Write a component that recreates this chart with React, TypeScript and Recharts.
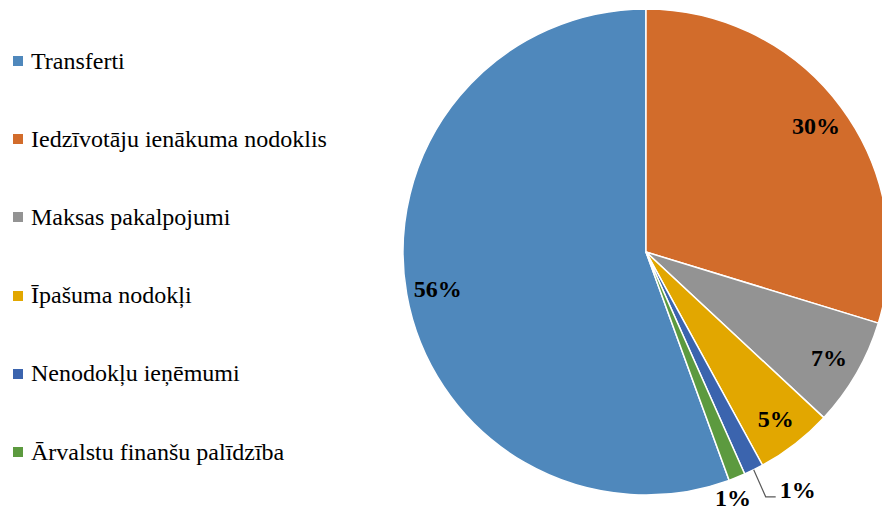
import { PieChart, Pie, Cell } from "recharts";

const NAMES = [
  "Transferti",
  "Iedzīvotāju ienākuma nodoklis",
  "Maksas pakalpojumi",
  "Īpašuma nodokļi",
  "Nenodokļu ieņēmumi",
  "Ārvalstu finanšu palīdzība",
];
const SHARES = [55.5, 29.7, 7.2, 5.1, 1.3, 1.1];
const COLORS = ["#4F88BC", "#D26C2B", "#939393", "#E2A700", "#3B64AE", "#5C9A3F"];

const FONT = "Liberation Serif, Times New Roman, serif";
const RAD = Math.PI / 180;

const data = NAMES.map((name, i) => ({ name, value: SHARES[i] }));
const total = SHARES.reduce((a, b) => a + b, 0);
// first slice (Transferti) ends at 12 o'clock, the rest run clockwise from there
const START = 90 + (360 * SHARES[0]) / total;

const labelStyle = { fontFamily: FONT, fontWeight: 700, fontSize: 24 };

function renderLabel(props: any) {
  const { cx, cy, midAngle, outerRadius, percent, index } = props;
  const text = `${Math.round(percent * 100)}%`;
  const ex = cx + outerRadius * Math.cos(-midAngle * RAD);
  const ey = cy + outerRadius * Math.sin(-midAngle * RAD);
  if (index === 4) {
    return (
      <g>
        <polyline
          points={`${ex},${ey} ${ex + 12},${ey + 27} ${ex + 22},${ey + 27}`}
          fill="none"
          stroke="#595959"
          strokeWidth={1.2}
        />
        <text x={ex + 26} y={ey + 28} style={labelStyle} fill="#000">
          {text}
        </text>
      </g>
    );
  }
  if (index === 5) {
    return (
      <text x={ex - 4} y={ey + 29} textAnchor="middle" style={labelStyle} fill="#000">
        {text}
      </text>
    );
  }
  const r = outerRadius * 0.87;
  const x = cx + r * Math.cos(-midAngle * RAD);
  const y = cy + r * Math.sin(-midAngle * RAD);
  return (
    <text x={x} y={y} textAnchor="middle" dominantBaseline="central" style={labelStyle} fill="#000">
      {text}
    </text>
  );
}

function SideLegend() {
  return (
    <div style={{ position: "absolute", left: 0, top: 0, width: 360, height: 511 }}>
      {NAMES.map((name, i) => (
        <div
          key={name}
          style={{
            position: "absolute",
            left: 0,
            top: 46 + i * 78.2,
            height: 30,
            display: "flex",
            alignItems: "center",
            fontFamily: FONT,
            fontSize: 24,
            color: "#000",
            whiteSpace: "nowrap",
          }}
        >
          <span style={{ display: "inline-block", width: 10, height: 10, background: COLORS[i], marginLeft: 13, marginRight: 8 }} />
          {name}
        </div>
      ))}
    </div>
  );
}

export default function App() {
  return (
    <div style={{ position: "absolute", left: 0, top: 0, width: 882, height: 511, background: "#fff", overflow: "hidden" }}>
      <PieChart width={882} height={511} margin={{ top: 0, right: 0, bottom: 0, left: 0 }}>
        <Pie
          data={data}
          dataKey="value"
          nameKey="name"
          cx={646}
          cy={252}
          outerRadius={243}
          startAngle={START}
          endAngle={START - 360}
          stroke="#fff"
          strokeWidth={1.5}
          label={renderLabel}
          labelLine={false}
          isAnimationActive={false}
        >
          {data.map((d, i) => (
            <Cell key={d.name} fill={COLORS[i]} />
          ))}
        </Pie>
      </PieChart>
      <SideLegend />
    </div>
  );
}
